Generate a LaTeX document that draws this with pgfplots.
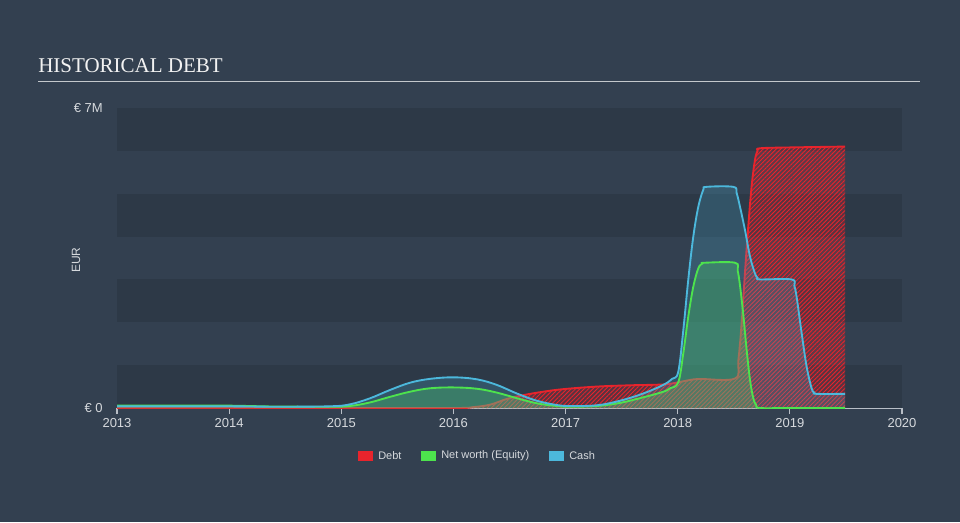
\documentclass[border=0pt]{standalone}
\usepackage{fontspec}
\setmainfont{Liberation Sans}
\newfontfamily\titlefont{Liberation Serif}
\usepackage{pgfplots}
\pgfplotsset{compat=1.18}
\usetikzlibrary{patterns.meta}

\definecolor{bg}{HTML}{334050}
\definecolor{banddark}{HTML}{2D3947}
\definecolor{titlecol}{HTML}{F2F2F2}
\definecolor{labcol}{HTML}{D6D9DD}
\definecolor{axiscol}{HTML}{B8BEC6}
\definecolor{ulinecol}{HTML}{C4C8CC}
\definecolor{debtred}{HTML}{E8242C}
\definecolor{eqgreen}{HTML}{4DE34D}
\definecolor{cashblue}{HTML}{4CB8DC}

\pgfplotstableread{
x y
2013.0 0
2014.0 0
2015.0 0
2016.0 0
2016.175 0.02
2016.33 0.08
2016.475 0.21
2016.623 0.30
2016.80 0.38
2016.98 0.44
2017.278 0.50
2017.575 0.53
2017.872 0.55
2018.005 0.60
2018.10 0.65
2018.199 0.677
2018.511 0.688
2018.541 1.12
2018.571 2.01
2018.600 3.17
2018.630 4.27
2018.660 5.20
2018.689 5.79
2018.712 6.00
2018.734 6.06
2019.0 6.08
2019.492 6.10
}\debt

\pgfplotstableread{
x y
2013.0 0.058
2013.5 0.058
2014.0 0.055
2014.4 0.035
2014.9 0.03
2015.078 0.047
2015.256 0.13
2015.434 0.26
2015.613 0.38
2015.791 0.46
2016.0 0.48
2016.208 0.45
2016.386 0.36
2016.564 0.23
2016.743 0.11
2016.921 0.047
2017.04 0.03
2017.278 0.047
2017.486 0.12
2017.694 0.25
2017.872 0.38
2017.931 0.46
2018.005 0.60
2018.050 1.28
2018.094 2.13
2018.139 2.83
2018.184 3.26
2018.220 3.37
2018.243 3.39
2018.511 3.39
2018.535 3.20
2018.555 2.87
2018.585 2.17
2018.615 1.35
2018.645 0.65
2018.674 0.23
2018.700 0.07
2018.734 0.0
2019.0 0.0
2019.492 0.0
}\equity

\pgfplotstableread{
x y
2013.0 0.04
2013.5 0.04
2014.0 0.04
2014.4 0.03
2014.9 0.04
2015.078 0.086
2015.256 0.226
2015.434 0.42
2015.613 0.59
2015.791 0.68
2016.0 0.716
2016.208 0.67
2016.386 0.54
2016.564 0.34
2016.743 0.17
2016.921 0.07
2017.04 0.047
2017.278 0.063
2017.486 0.17
2017.694 0.34
2017.872 0.54
2017.95 0.68
2018.005 0.847
2018.05 1.82
2018.094 2.99
2018.139 4.00
2018.184 4.70
2018.228 5.09
2018.258 5.16
2018.496 5.16
2018.525 5.02
2018.555 4.70
2018.600 4.15
2018.645 3.53
2018.689 3.14
2018.712 3.04
2018.734 3.00
2019.016 3.00
2019.04 2.85
2019.060 2.60
2019.105 1.75
2019.150 0.96
2019.194 0.46
2019.218 0.36
2019.239 0.33
2019.492 0.33
}\cash

\begin{document}
\begin{tikzpicture}
\fill[bg] (0,0) rectangle (720pt,391.5pt);
\path[use as bounding box] (0,0) rectangle (720pt,391.5pt);

\node[anchor=base west, inner sep=0pt, text=titlecol, font=\titlefont\fontsize{15.75}{18}\selectfont] at (28.5pt,336.75pt) {HISTORICAL DEBT};
\draw[ulinecol, line width=1.1pt] (28.5pt,330.2pt) -- (690pt,330.2pt);

\node[rotate=90, text=labcol, font=\fontsize{9}{10}\selectfont] at (57pt,196.5pt) {EUR};

\begin{axis}[
  at={(87.75pt,85.5pt)}, anchor=south west,
  scale only axis, width=588.75pt, height=225pt,
  xmin=2013, xmax=2020, ymin=0, ymax=7,
  axis x line*=bottom, axis y line*=left,
  y axis line style={draw=none},
  x axis line style={draw=axiscol, line width=1pt},
  xtick={2013,2014,2015,2016,2017,2018,2019,2020},
  xticklabels={2013,2014,2015,2016,2017,2018,2019,2020},
  ytick={0,7}, yticklabels={€ 0,€ 7M},
  tick align=outside, major tick length=4.5pt,
  xtick style={draw=axiscol, line width=0.8pt},
  ytick style={draw=none},
  ticklabel style={text=labcol, font=\fontsize{9.75}{11}\selectfont},
  yticklabel style={xshift=-2.7pt},
  /pgf/number format/assume math mode=true,
  clip=true,
  smooth, tension=0.6,
]
\fill[banddark] (axis cs:2013,6) rectangle (axis cs:2020,7);
\fill[banddark] (axis cs:2013,4) rectangle (axis cs:2020,5);
\fill[banddark] (axis cs:2013,2) rectangle (axis cs:2020,3);
\fill[banddark] (axis cs:2013,0) rectangle (axis cs:2020,1);

\addplot[draw=none, fill=debtred, fill opacity=0.24,
  postaction={fill opacity=0.75, pattern={Lines[angle=45,distance=2.3pt,line width=0.65pt]}, pattern color=debtred}]
  table[x=x,y=y]{\debt} \closedcycle;
\addplot[debtred, line width=1.4pt] table[x=x,y=y]{\debt};

\addplot[draw=none, fill=eqgreen, fill opacity=0.3] table[x=x,y=y]{\equity} \closedcycle;
\addplot[draw=none, fill=cashblue, fill opacity=0.22] table[x=x,y=y]{\cash} \closedcycle;

\addplot[eqgreen, line width=1.4pt] table[x=x,y=y]{\equity};
\addplot[cashblue, line width=1.4pt] table[x=x,y=y]{\cash};
\end{axis}

% legend
\fill[debtred] (268.5pt,45.4pt) rectangle (279.75pt,53.6pt);
\node[anchor=west, inner sep=0pt, text=labcol, font=\fontsize{8.25}{10}\selectfont] at (283.5pt,49.5pt) {Debt};
\fill[eqgreen] (315.75pt,45.4pt) rectangle (327pt,53.6pt);
\node[anchor=west, inner sep=0pt, text=labcol, font=\fontsize{8.25}{10}\selectfont] at (330.75pt,49.5pt) {Net worth (Equity)};
\fill[cashblue] (411.75pt,45.4pt) rectangle (423pt,53.6pt);
\node[anchor=west, inner sep=0pt, text=labcol, font=\fontsize{8.25}{10}\selectfont] at (426.75pt,49.5pt) {Cash};
\end{tikzpicture}
\end{document}
